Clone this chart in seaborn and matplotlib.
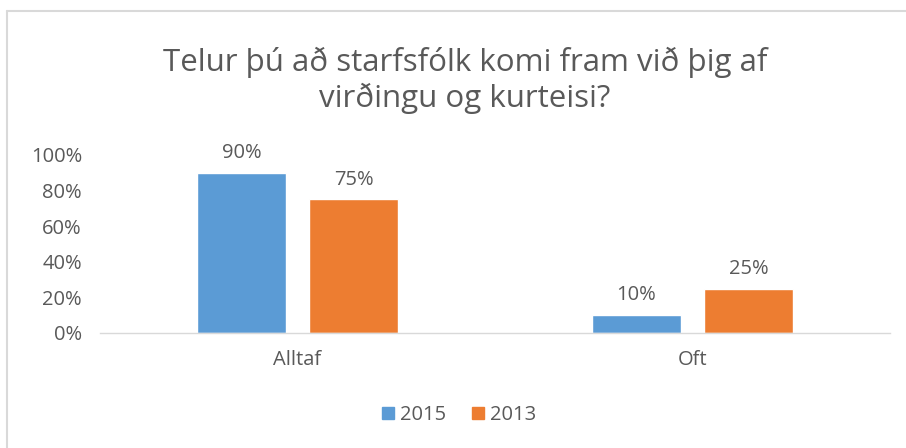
import matplotlib
matplotlib.use("Agg")
import matplotlib.pyplot as plt
import seaborn as sns
import pandas as pd
from matplotlib.lines import Line2D
from matplotlib.ticker import PercentFormatter

categories = ["Alltaf", "Oft"]
years = ["2015", "2013"]
values_2015 = [0.90, 0.10]
values_2013 = [0.75, 0.25]
title = "Telur þú að starfsfólk komi fram við þig af\nvirðingu og kurteisi?"

df = pd.DataFrame({
    "cat": categories * 2,
    "year": [years[0]] * 2 + [years[1]] * 2,
    "val": values_2015 + values_2013,
})

sns.set_theme(style="white")
plt.rcParams["font.family"] = ["Open Sans", "DejaVu Sans"]

fig = plt.figure(figsize=(9.06, 4.48), dpi=100)
ax = fig.add_axes([100/906, 1-333/448, 790/906, 178/448])

palette = {"2015": "#5b9bd5", "2013": "#ed7d31"}
sns.barplot(data=df, x="cat", y="val", hue="year", hue_order=years,
            palette=palette, width=0.567, gap=0.206, saturation=1,
            ax=ax, legend=False)

ax.set_xlim(-0.5, 1.5)
ax.set_ylim(0, 1)
ax.set_yticks([0, 0.2, 0.4, 0.6, 0.8, 1.0])
ax.yaxis.set_major_formatter(PercentFormatter(1.0, decimals=0))
ax.set_xlabel("")
ax.set_ylabel("")
for s in ["top", "right", "left"]:
    ax.spines[s].set_visible(False)
ax.spines["bottom"].set_color("#d9d9d9")
ax.spines["bottom"].set_linewidth(1.0)
fs = 14.5
ax.tick_params(axis="both", length=0, colors="#595959", labelsize=fs)
ax.tick_params(axis="y", pad=13)
ax.tick_params(axis="x", pad=12)

for cont in ax.containers:
    ax.bar_label(cont, labels=[f"{v*100:.0f}%" for v in cont.datavalues],
                 padding=7, color="#595959", fontsize=fs)

fig.text(0.513, 0.82, title, ha="center", va="center", fontsize=22.5,
         color="#595959", linespacing=1.18)

handles = [plt.Rectangle((0, 0), 1, 1, color=palette[y]) for y in years]
fig.legend(handles, years, loc="center", bbox_to_anchor=(0.507, 1-415/448),
           ncol=2, frameon=False, fontsize=fs, labelcolor="#595959",
           handlelength=0.6, handleheight=0.6, handletextpad=0.3,
           columnspacing=1.3)

fig.add_artist(Line2D([7/906, 7/906], [0, 1-11/448], transform=fig.transFigure,
                      color="#d9d9d9", lw=1.5))
fig.add_artist(Line2D([7/906, 1], [1-11/448, 1-11/448], transform=fig.transFigure,
                      color="#d9d9d9", lw=1.5))

fig.savefig("out.png", dpi=100)
